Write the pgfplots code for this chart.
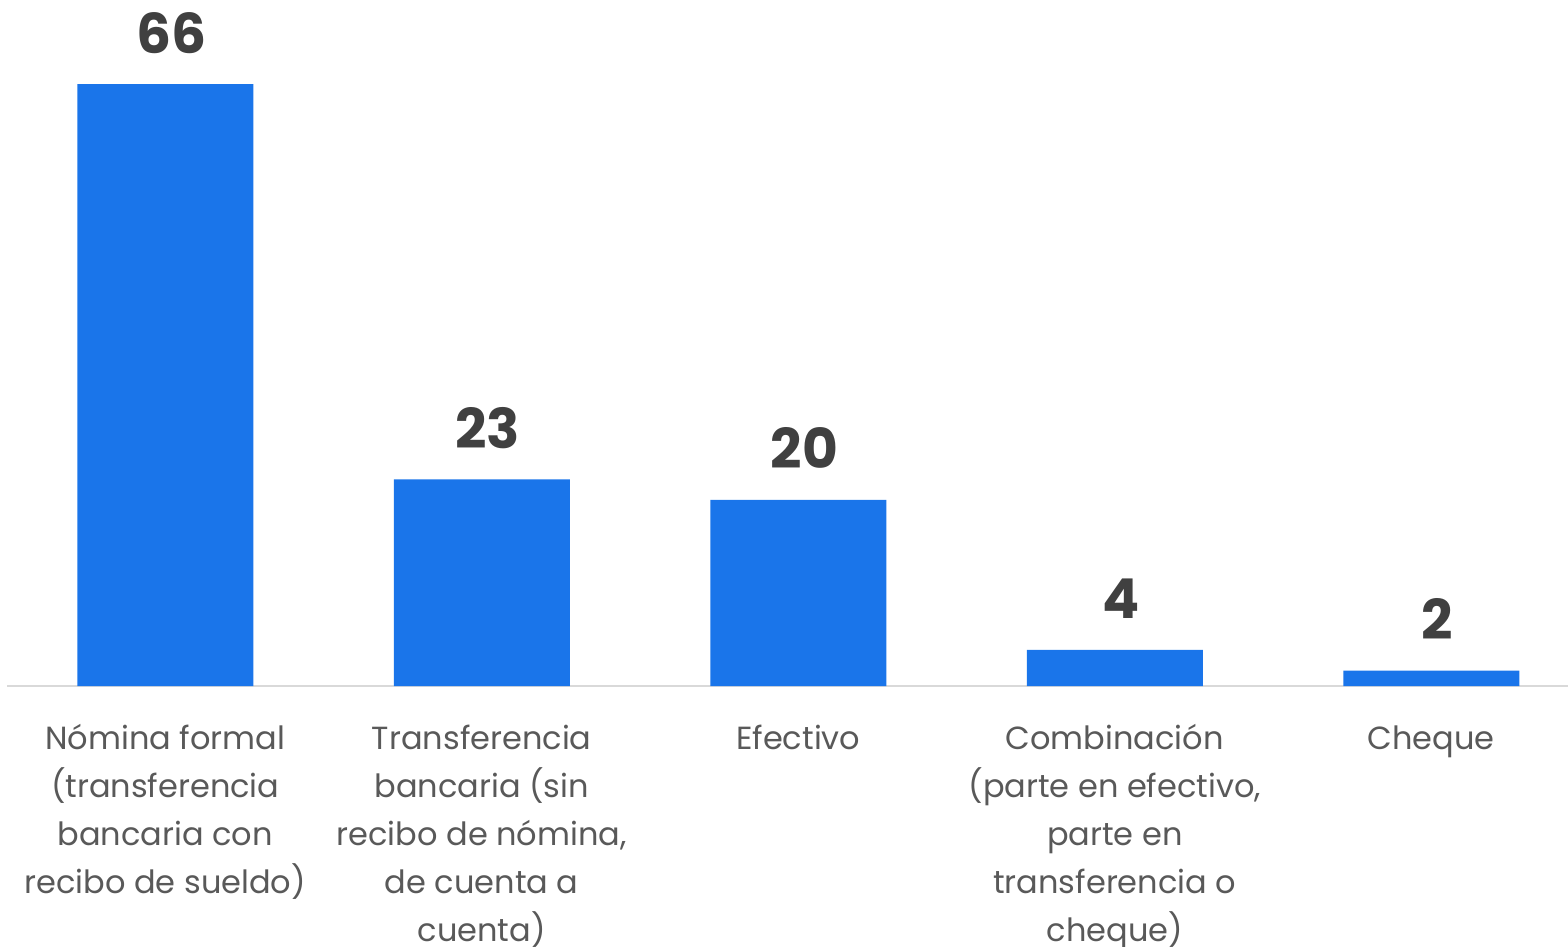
\documentclass[border=0pt]{standalone}
\usepackage{fontspec}
\setmainfont{Poppins}
\usepackage{pgfplots}
\pgfplotsset{compat=1.18}
\definecolor{barblue}{HTML}{1A75EA}
\definecolor{valgray}{HTML}{404040}
\definecolor{labgray}{HTML}{595959}
\definecolor{axgray}{HTML}{D9D9D9}
\newcommand{\fs}{\rule{0pt}{16pt}}
\begin{document}
\begin{tikzpicture}
\begin{axis}[
  scale only axis,
  width=780.5pt, height=342pt,
  ymin=0, ymax=75,
  xmin=-0.5, xmax=4.432,
  clip=false,
  ybar, bar width=88pt,
  axis x line*=bottom,
  axis y line=none,
  x axis line style={draw=axgray, line width=1pt, -},
  xtick=data,
  xtick style={draw=none},
  xticklabels={
    {\fs Nómina formal\\(transferencia\\bancaria con\\recibo de sueldo)},
    {\fs Transferencia\\bancaria (sin\\recibo de nómina,\\de cuenta a\\cuenta)},
    {\fs Efectivo},
    {\fs Combinación\\(parte en efectivo,\\parte en\\transferencia o\\cheque)},
    {\fs Cheque}},
  xticklabel style={anchor=north, inner sep=0pt, yshift=-11.5pt, align=center,
    font=\fontsize{16}{24}\selectfont, text=labgray},
  point meta=explicit symbolic,
  nodes near coords,
  every node near coord/.append style={anchor=base, inner sep=0pt, yshift=15.5pt, xshift=3pt,
    font=\fontsize{27.5}{33}\selectfont\bfseries, text=valgray},
]
\addplot[fill=barblue, draw=none] coordinates {(0,66)[66] (1,22.65)[23] (2,20.4)[20] (3,3.95)[4] (4,1.68)[2]};
\coordinate (O) at (rel axis cs:0,0);
\end{axis}
\pgfresetboundingbox
\path (O) ++(-3.5pt,-130.5pt) rectangle ++(784pt,473.5pt);
\end{tikzpicture}
\end{document}
